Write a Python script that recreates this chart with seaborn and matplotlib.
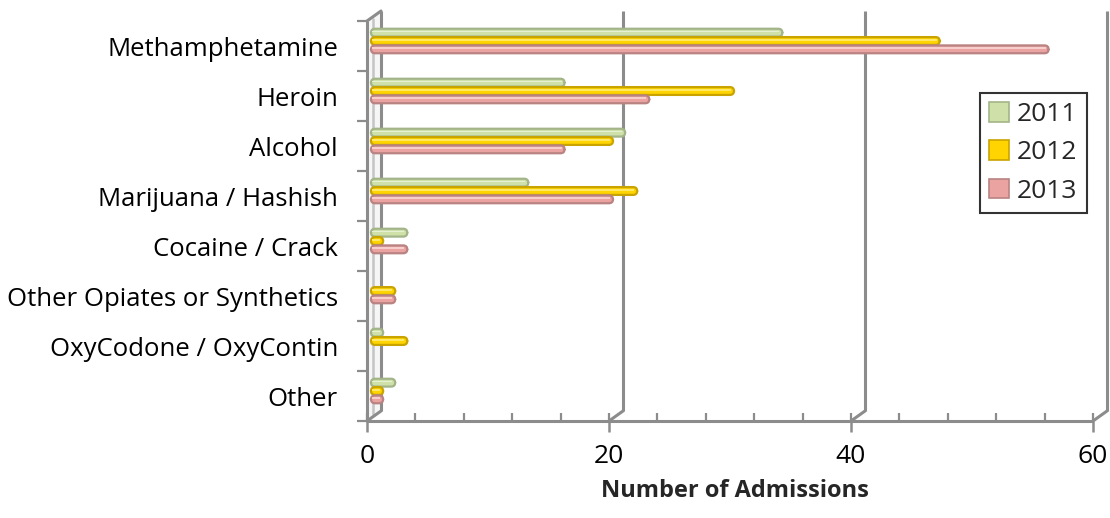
import numpy as np
import pandas as pd
import matplotlib
matplotlib.use("Agg")
import matplotlib.pyplot as plt
import seaborn as sns
from matplotlib.transforms import ScaledTranslation
from matplotlib.patches import FancyBboxPatch, Polygon, Patch
import matplotlib.lines as mlines

# ---- data -------------------------------------------------------------
categories = [
    "Methamphetamine",
    "Heroin",
    "Alcohol",
    "Marijuana / Hashish",
    "Cocaine / Crack",
    "Other Opiates or Synthetics",
    "OxyCodone / OxyContin",
    "Other",
]
years = ["2011", "2012", "2013"]
admissions_2011 = [34, 16, 21, 13, 3, 0, 1, 2]
admissions_2012 = [47, 30, 20, 22, 1, 2, 3, 1]
admissions_2013 = [56, 23, 16, 20, 3, 2, 0, 1]
x_ticks = [0, 20, 40, 60]
minor_step = 4

fills = {"2011": "#cfe1a9", "2012": "#ffd400", "2013": "#eba3a1"}
edges = {"2011": "#a3b488", "2012": "#c9a300", "2013": "#b88382"}
shines = {"2011": "#e6f0d4", "2012": "#ffe866", "2013": "#f6cfcd"}

df = pd.DataFrame({
    "Substance": categories * 3,
    "Year": np.repeat(years, len(categories)),
    "Admissions": admissions_2011 + admissions_2012 + admissions_2013,
})

sns.set_theme(style="white")
plt.rcParams["font.family"] = ["Open Sans", "DejaVu Sans"]

W, H = 1110, 518
fig = plt.figure(figsize=(W / 100, H / 100), dpi=100)
# axes box in pixels (left, top, right, bottom)
L, T, R, B = 340, 0, 1110, 440
ax = fig.add_axes([L / W, 1 - B / H, (R - L) / W, (B - T) / H])

PX_PER_UNIT = 12.1      # horizontal scale
ROW_PX = 50             # category spacing
ZERO_PX = 371           # where value 0 sits in the bar plane
FIRST_ROW_PX = 41       # centre of first category in the bar plane

sns.barplot(data=df, y="Substance", x="Admissions", hue="Year",
            order=categories, hue_order=years, palette=fills,
            orient="h", width=0.5, dodge=True, ax=ax, legend=False,
            saturation=1)

ax.set_xlim((L - ZERO_PX) / PX_PER_UNIT, (R - ZERO_PX) / PX_PER_UNIT)
ax.set_ylim((B - FIRST_ROW_PX) / ROW_PX, (T - FIRST_ROW_PX) / ROW_PX)
for s in ax.spines.values():
    s.set_visible(False)

dpi_tr = fig.dpi_scale_trans
def shift(dx_px, dy_px):
    # screen offset in pixels (dy positive = up)
    return ScaledTranslation(dx_px / 100, dy_px / 100, dpi_tr)

front = ax.transData + shift(-4, -5)
back = ax.transData + shift(10, 5)
inv = ax.transData.inverted()
def to_data(tr, pts):
    return inv.transform(tr.transform(pts))

n = len(categories)
y_top, y_bot = -0.5, n - 0.5
x_max = x_ticks[-1]
grid_c = "#8c8c8c"

# side wall (left) with a soft shading
fpts = to_data(front, [[0, y_top], [0, y_bot]])
bpts = to_data(back, [[0, y_top], [0, y_bot]])
wall_poly = Polygon([fpts[0], bpts[0], bpts[1], fpts[1]], closed=True,
                    facecolor="#f6f6f6", edgecolor="none", zorder=0.5)
ax.add_patch(wall_poly)
mid = (fpts * 0.55 + bpts * 0.45)
ax.plot([mid[0][0], mid[1][0]], [mid[0][1] + 0.05, mid[1][1] - 0.05],
        color="#c4c4c4", lw=1.8, zorder=0.6)

# back wall verticals at each major value, bending to the floor front
for v in x_ticks:
    ax.plot([v, v], [y_top, y_bot], color=grid_c, lw=2.2, transform=back,
            solid_capstyle="butt", zorder=0.7)
    p_back = to_data(back, [[v, y_bot]])[0]
    p_front = to_data(front, [[v, y_bot]])[0]
    ax.plot([p_back[0], p_front[0]], [p_back[1], p_front[1]],
            color=grid_c, lw=2.2, zorder=0.7)
# top edge of the side wall
pt_b = to_data(back, [[0, y_top]])[0]
pt_f = to_data(front, [[0, y_top]])[0]
ax.plot([pt_b[0], pt_f[0]], [pt_b[1], pt_f[1]], color=grid_c, lw=2.2, zorder=0.7)

# front category axis with leftward ticks at each boundary
ax.plot([0, 0], [y_top, y_bot], color=grid_c, lw=2.2, transform=front,
        solid_capstyle="butt", zorder=3)
bounds = np.arange(n + 1) - 0.5
ax.plot(np.zeros_like(bounds), bounds, ls="none", marker=mlines.TICKLEFT,
        ms=7, mew=1.6, color=grid_c, transform=front, zorder=3)

# front value axis
ax.plot([0, x_max], [y_bot, y_bot], color=grid_c, lw=2.2, transform=front,
        solid_capstyle="butt", zorder=3)
minor = np.arange(0, x_max + 1, minor_step)
ax.plot(minor, np.full_like(minor, y_bot, dtype=float), ls="none",
        marker=mlines.TICKUP, ms=5.5, mew=1.6, color=grid_c,
        transform=front, zorder=3)
ax.plot(x_ticks, [y_bot] * len(x_ticks), ls="none", marker=mlines.TICKDOWN,
        ms=8, mew=1.8, color=grid_c, transform=front, zorder=3)

# bars: rounded cylinders with a light sheen
aspect = (1 / ROW_PX) / (1 / PX_PER_UNIT)
for i, cont in enumerate(list(ax.containers)):
    year = years[i]
    for rect in cont:
        x0, y0 = rect.get_x(), rect.get_y()
        w, h = rect.get_width(), rect.get_height()
        rect.set_visible(False)
        if w <= 0:
            continue
        rad = min(0.34, w / 2)
        body = FancyBboxPatch((x0, y0 + 0.005), w, h - 0.01,
                              boxstyle=f"round,pad=0,rounding_size={rad}",
                              mutation_aspect=aspect,
                              facecolor=fills[year], edgecolor=edges[year],
                              lw=1.6, zorder=4)
        ax.add_patch(body)
        sheen = FancyBboxPatch((x0 + 0.1, y0 + h * 0.24), max(w - 0.35, 0.05),
                               h * 0.2, boxstyle="square,pad=0",
                               facecolor=shines[year], edgecolor="none",
                               zorder=4.5)
        ax.add_patch(sheen)

# tick labels
ax.set_yticks(range(n))
ax.set_yticklabels(categories, fontsize=18.5, color="black")
ax.tick_params(axis="y", length=0, pad=1.5)
for lab in ax.get_yticklabels():
    lab.set_transform(lab.get_transform() + shift(0, -5))

ax.set_xticks(x_ticks)
ax.set_xticklabels([str(v) for v in x_ticks], fontsize=19, color="black")
ax.tick_params(axis="x", length=0, pad=3)
for lab in ax.get_xticklabels():
    lab.set_transform(lab.get_transform() + shift(-4, 0))
ax.set_xlabel("")
ax.set_ylabel("")

fig.text(735 / W, 1 - 491 / H, "Number of Admissions", fontsize=17,
         fontweight="bold", ha="center", va="center")

# legend
handles = [Patch(facecolor=fills[y], edgecolor=edges[y], lw=1.2, label=y)
           for y in years]
leg = ax.legend(handles=handles, loc="upper left",
                bbox_to_anchor=(980 / W, 1 - 93 / H),
                bbox_transform=fig.transFigure, fontsize=19,
                frameon=True, fancybox=False, shadow=False,
                handlelength=0.76, handleheight=0.76, handletextpad=0.3,
                labelspacing=0.5, borderpad=0.35, borderaxespad=0)
leg.get_frame().set_edgecolor("black")
leg.get_frame().set_linewidth(1.5)
leg.set_zorder(10)

fig.savefig("out.png", dpi=100)
